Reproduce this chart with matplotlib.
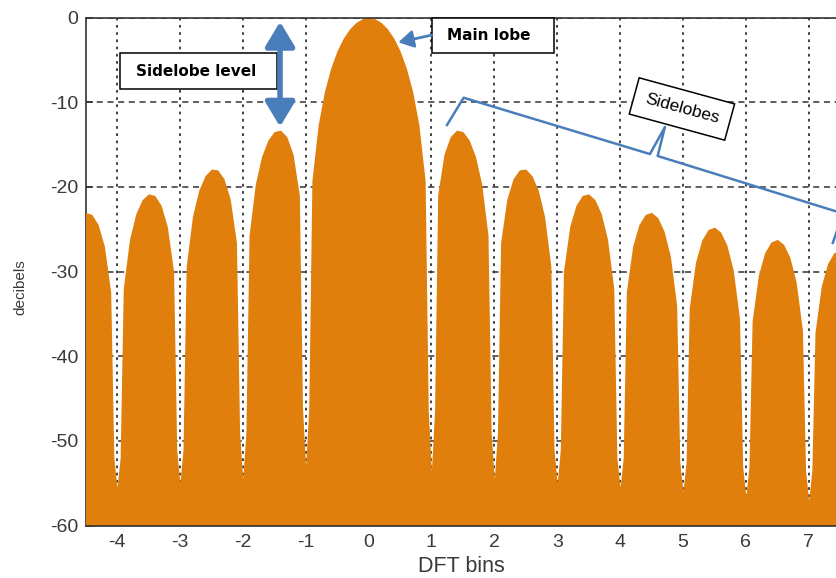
import numpy as np
import matplotlib.pyplot as plt
from matplotlib.patches import Rectangle

plt.rcParams['font.family'] = ['Liberation Sans', 'DejaVu Sans']
plt.rcParams['axes.unicode_minus'] = False

# spectrum of a rectangular window, read every 0.1 bin from -4.5 to 7.5
bins = np.round(np.arange(-4.5, 7.55, 0.1), 1)
level_db = [
    -23.01, -23.25, -24.45, -27.02, -32.40,
    -55.5, -31.97, -26.16, -23.15, -21.51, -20.82, -21.01, -22.15, -24.66, -29.97,
    -55.0, -29.39, -23.50, -20.41, -18.68, -17.90, -17.98, -19.02, -21.41, -26.59,
    -54.5, -25.72, -19.67, -16.39, -14.46, -13.46, -13.30, -14.06, -16.14, -20.97,
    -53.0, -19.23, -12.62, -8.69, -5.94, -3.92, -2.42, -1.33, -0.58, -0.14,
    0.0, -0.14, -0.58, -1.33, -2.42, -3.92, -5.94, -8.69, -12.62, -19.23,
    -53.5, -20.97, -16.14, -14.06, -13.30, -13.46, -14.46, -16.39, -19.67, -25.72,
    -54.5, -26.59, -21.41, -19.02, -17.98, -17.90, -18.68, -20.41, -23.50, -29.39,
    -55.0, -29.97, -24.66, -22.15, -21.01, -20.82, -21.51, -23.15, -26.16, -31.97,
    -55.5, -32.40, -27.02, -24.45, -23.25, -23.01, -23.63, -25.23, -28.18, -33.95,
    -56.0, -34.30, -28.88, -26.27, -25.03, -24.75, -25.34, -26.90, -29.83, -35.56,
    -56.5, -35.85, -30.41, -27.77, -26.50, -26.20, -26.77, -28.31, -31.21, -36.92,
    -57.0, -37.17, -31.71, -29.05, -27.76, -27.44,
]
# level read half a step either side of each null (-4..-1, 1..7)
null_bins = np.array([-4, -3, -2, -1, 1, 2, 3, 4, 5, 6, 7])
null_edge_db = [-52.0, -51.0, -49.0, -46.0, -46.5, -49.0, -51.0, -52.0, -52.5, -53.0, -53.5]

xticks = list(range(-4, 8))
yticks = list(range(-60, 1, 10))

orange = '#E07F0B'
blue = '#4A7EBB'

x_all = np.concatenate([bins, null_bins - 0.05, null_bins + 0.05])
y_all = np.concatenate([level_db, null_edge_db, null_edge_db])
order = np.argsort(x_all)
x_all, y_all = x_all[order], y_all[order]

fig = plt.figure(figsize=(8.37, 5.78), dpi=100)
ax = fig.add_axes([0.1022, 0.0905, 0.8978, 0.8792])

ax.fill_between(x_all, y_all, -60, color=orange, linewidth=0)

ax.set_xlim(-4.5, 7.45)
ax.set_ylim(-60, 0)
ax.set_xticks(xticks)
ax.set_yticks(yticks)
ax.set_axisbelow(True)
ax.xaxis.grid(True, color='#333333', linestyle=(0, (1.5, 2.5)), linewidth=1.3)
ax.yaxis.grid(True, color='#333333', linestyle=(0, (4, 3)), linewidth=1.1)
ax.tick_params(direction='in', length=5, width=1.2, color='#333333',
               labelcolor='#3a3a3a', labelsize=14)
ax.tick_params(axis='x', pad=6)
ax.tick_params(axis='y', pad=5)
ax.spines['right'].set_visible(False)
ax.spines['left'].set_zorder(0.9)
for s in ['top', 'bottom', 'left']:
    ax.spines[s].set_color('#333333')
    ax.spines[s].set_linewidth(1.2)

ax.set_xlabel('DFT bins', fontsize=15.5, color='#3a3a3a')
ax.xaxis.set_label_coords(0.5, -0.060)
ax.set_ylabel('decibels', fontsize=11, color='#3a3a3a')
ax.yaxis.set_label_coords(-0.077, 0.47)

# "Sidelobe level" box and double arrow
ax.add_patch(Rectangle((-3.951, -8.44), 2.496, 4.25, facecolor='white',
                       edgecolor='black', linewidth=1.1, zorder=4))
ax.text(-2.74, -6.32, 'Sidelobe level', family='DejaVu Sans', weight='bold',
        fontsize=11, ha='center', va='center', zorder=5)
ax.annotate('', xy=(-1.407, -0.5), xytext=(-1.407, -12.89),
            arrowprops=dict(arrowstyle='<|-|>,head_length=0.75,head_width=0.45',
                            color=blue, lw=4, mutation_scale=20,
                            shrinkA=0, shrinkB=0), zorder=5)

# "Main lobe" box and arrow
ax.add_patch(Rectangle((1.01, -4.23), 1.947, 4.23, facecolor='white',
                       edgecolor='black', linewidth=1.1, zorder=4, clip_on=False))
ax.text(1.916, -2.13, 'Main lobe', family='DejaVu Sans', weight='bold',
        fontsize=11, ha='center', va='center', zorder=5)
ax.annotate('', xy=(0.474, -2.93), xytext=(1.01, -2.07),
            arrowprops=dict(arrowstyle='-|>,head_length=0.6,head_width=0.35',
                            color=blue, lw=2, mutation_scale=15,
                            shrinkA=0, shrinkB=0), zorder=5)

# brace over the sidelobes
brace_x = [1.248, 1.513, 4.475, 4.714, 4.598, 7.544, 7.383]
brace_y = [-12.69, -9.47, -16.12, -12.93, -16.35, -23.14, -26.62]
ax.plot(brace_x, brace_y, color=blue, lw=1.8, clip_on=False, zorder=5)
ax.text(4.984, -10.8, 'Sidelobes', fontsize=12.5, rotation=-15.3,
        rotation_mode='anchor', ha='center', va='center', zorder=5,
        bbox=dict(boxstyle='square,pad=0.65', facecolor='white',
                  edgecolor='black', linewidth=1.1))

fig.savefig('out.png', dpi=100)
